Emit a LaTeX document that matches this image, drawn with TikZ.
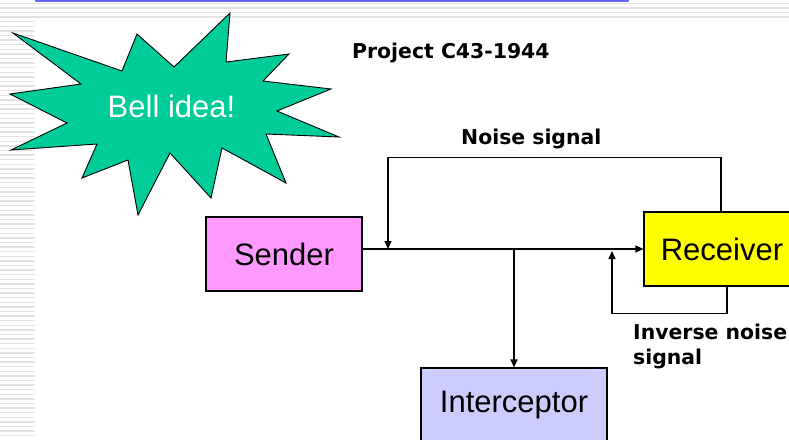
\documentclass[tikz,border=0pt]{standalone}
\usepackage{fontspec}
\setmainfont{Liberation Sans}
\newfontfamily\lblfont{DejaVu Sans}
\usetikzlibrary{arrows.meta}
\definecolor{starfill}{RGB}{0,204,153}
\definecolor{sendfill}{RGB}{255,153,255}
\definecolor{recvfill}{RGB}{255,255,0}
\definecolor{intfill}{RGB}{204,204,255}
\definecolor{topblue}{RGB}{102,102,255}
\definecolor{stripecol}{RGB}{226,226,226}
\begin{document}
\begin{tikzpicture}[x=1pt,y=-1pt,
  box/.style={draw=black, line width=1.2pt, minimum width=156pt, minimum height=74pt, inner sep=0pt,
    font=\fontsize{31}{37}\selectfont},
  lbl/.style={inner sep=0pt, font=\lblfont\bfseries\fontsize{20.4}{24.5}\selectfont},
  arr/.style={line width=1.2pt, -{Triangle[length=8pt,width=7pt]}},
  stripeline/.style={stripecol, line width=1.4pt}]
\useasboundingbox (0,0) rectangle (789,439);
\clip (0,0) rectangle (789,439);
% background stripes
\foreach \k in {0,...,3} \draw[stripeline] (0,{3.3+4.6*\k}) -- (789,{3.3+4.6*\k});
\foreach \k in {4,...,95} \draw[stripeline] (0,{3.3+4.6*\k}) -- (35,{3.3+4.6*\k});
\fill[white] (35,20) rectangle (789,439);
\draw[topblue, line width=2pt] (35,0.8) -- (629,0.8);
% star
\draw[fill=starfill, line width=0.9pt, line join=miter]
  (13,33) -- (122,71) -- (137,34) -- (174,67) -- (230,13) -- (226,62) -- (289,54)
  -- (263,81) -- (331,89) -- (277,111) -- (339,137) -- (266,134) -- (286,183)
  -- (222,148) -- (211,198) -- (170,153) -- (138,215) -- (128,160) -- (82,178)
  -- (97,144) -- (11,150) -- (67,123) -- (10,94) -- (81,84) -- cycle;
\node[inner sep=0pt, text=white, font=\fontsize{31}{37}\selectfont, anchor=base] (bell) at (171.5,117) {Bell idea!};
% boxes
\node[box, fill=sendfill] (sender) at (284,254) {Sender};
\node[box, fill=recvfill] (receiver) at (722,249) {Receiver};
\node[box, fill=intfill, minimum width=186pt] (interceptor) at (514,405) {Interceptor};
% labels
\node[lbl, anchor=base west] (proj) at (352,58) {Project C43-1944};
\node[lbl, anchor=base west] (noise) at (461,144) {Noise signal};
\node[lbl, anchor=base west, align=left] (invlbl) at (633,364) {Inverse noise\\signal};
% connectors
\coordinate (nz) at (388,249);
\coordinate (inv) at (612,251);
\coordinate (br) at (514,249);
\draw[arr] (sender.east |- receiver.west) -- (receiver.west);
\draw[arr] ([xshift=-1pt]receiver.north) -- ++(0,-54) -| (nz);
\draw[arr] ([xshift=5pt]receiver.south) -- ++(0,27) -| (inv);
\draw[arr] (br) -- (interceptor.north);
\end{tikzpicture}
\end{document}
